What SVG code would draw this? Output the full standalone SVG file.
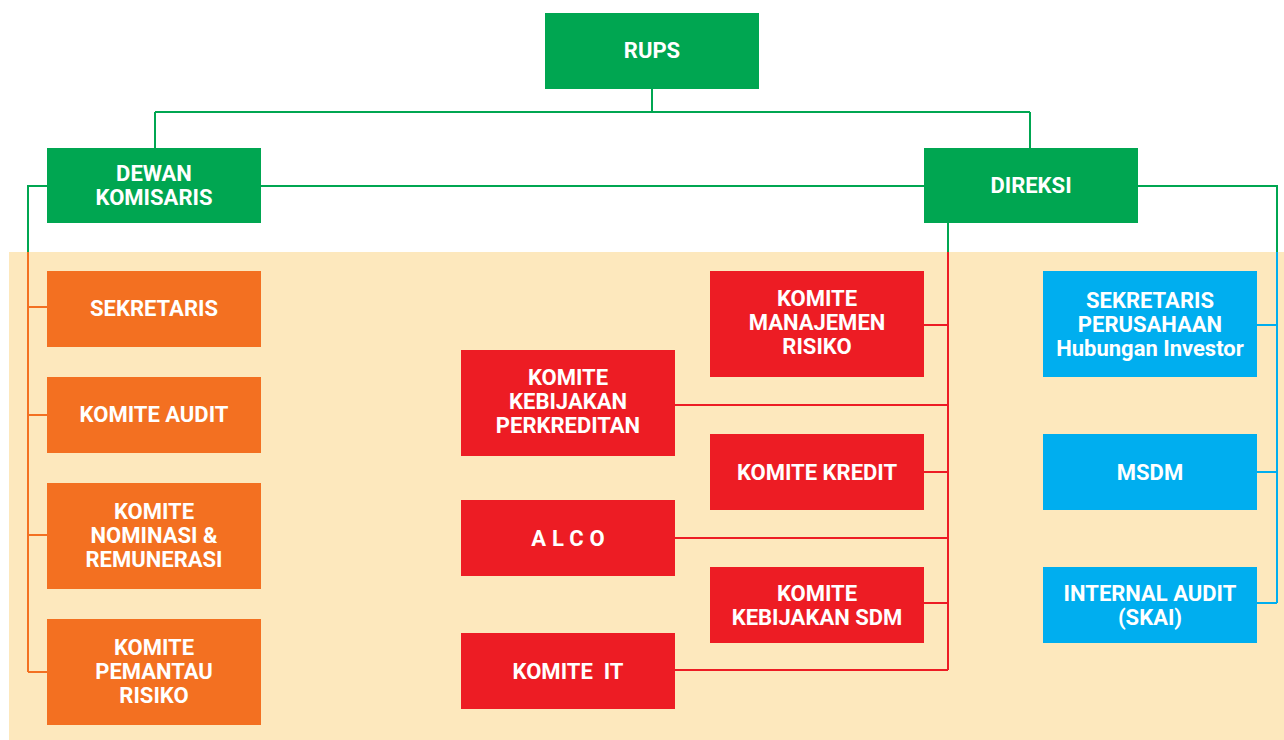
<svg xmlns="http://www.w3.org/2000/svg" width="1284" height="740" viewBox="0 0 1284 740">
  <style>
    .green { fill: #00A651; }
    .orange { fill: #F37021; }
    .red { fill: #ED1C24; }
    .blue { fill: #00AEEF; }
    .lbl { fill: #FFFFFF; font-family: Roboto, "Liberation Sans", sans-serif; font-weight: bold; font-size: 22px; text-anchor: middle; }
    .ln { fill: none; stroke-width: 2; }
    .lg { stroke: #00A651; }
    .lo { stroke: #F37021; }
    .lr { stroke: #ED1C24; }
    .lb { stroke: #00AEEF; }
  </style>

  <rect width="1284" height="740" fill="#FFFFFF"/>
  <!-- committee area backdrop -->
  <rect x="9" y="252" width="1275" height="488" fill="#FDE8BD"/>

  <g id="connectors">
    <!-- RUPS to board level -->
    <path class="ln lg" d="M652 88 V112 M155 112 H1030 M155 112 V148 M1030 112 V148"/>
    <path class="ln lg" d="M261 186 H924"/>
    <!-- commissioners' bus -->
    <path class="ln lg" d="M47 186 H28 V252"/>
    <path class="ln lo" d="M28 252 V672 M28 307 H47 M28 415 H47 M28 535 H47 M28 672 H47"/>
    <!-- directors' committees -->
    <path class="ln lg" d="M948 223 V252"/>
    <path class="ln lr" d="M948 252 V670 M924 325 H948 M675 405 H948 M924 472 H948 M675 538 H948 M924 603 H948 M675 670 H948"/>
    <!-- directors' staff units -->
    <path class="ln lg" d="M1138 186 H1277 V252"/>
    <path class="ln lb" d="M1277 252 V603 M1257 325 H1277 M1257 472 H1277 M1257 603 H1277"/>
  </g>

  <g id="rups">
    <rect class="green" x="545" y="13" width="214" height="76"/>
    <text class="lbl" x="652" y="58">RUPS</text>
  </g>
  <g id="dewan-komisaris">
    <rect class="green" x="47" y="148" width="214" height="75"/>
    <text class="lbl" x="154" y="181">DEWAN</text>
    <text class="lbl" x="154" y="205">KOMISARIS</text>
  </g>
  <g id="direksi">
    <rect class="green" x="924" y="148" width="214" height="75"/>
    <text class="lbl" x="1031" y="193">DIREKSI</text>
  </g>

  <g id="sekretaris">
    <rect class="orange" x="47" y="271" width="214" height="76"/>
    <text class="lbl" x="154" y="316">SEKRETARIS</text>
  </g>
  <g id="komite-audit">
    <rect class="orange" x="47" y="377" width="214" height="76"/>
    <text class="lbl" x="154" y="422">KOMITE AUDIT</text>
  </g>
  <g id="komite-nominasi">
    <rect class="orange" x="47" y="483" width="214" height="106"/>
    <text class="lbl" x="154" y="519">KOMITE</text>
    <text class="lbl" x="154" y="543">NOMINASI &amp;</text>
    <text class="lbl" x="154" y="567">REMUNERASI</text>
  </g>
  <g id="komite-pemantau-risiko">
    <rect class="orange" x="47" y="619" width="214" height="106"/>
    <text class="lbl" x="154" y="655">KOMITE</text>
    <text class="lbl" x="154" y="679">PEMANTAU</text>
    <text class="lbl" x="154" y="703">RISIKO</text>
  </g>

  <g id="komite-manajemen-risiko">
    <rect class="red" x="710" y="271" width="214" height="106"/>
    <text class="lbl" x="817" y="306">KOMITE</text>
    <text class="lbl" x="817" y="330">MANAJEMEN</text>
    <text class="lbl" x="817" y="354">RISIKO</text>
  </g>
  <g id="komite-kebijakan-perkreditan">
    <rect class="red" x="461" y="350" width="214" height="106"/>
    <text class="lbl" x="568" y="385">KOMITE</text>
    <text class="lbl" x="568" y="409">KEBIJAKAN</text>
    <text class="lbl" x="568" y="433">PERKREDITAN</text>
  </g>
  <g id="komite-kredit">
    <rect class="red" x="710" y="434" width="214" height="76"/>
    <text class="lbl" x="817" y="480">KOMITE KREDIT</text>
  </g>
  <g id="alco">
    <rect class="red" x="461" y="500" width="214" height="76"/>
    <text class="lbl" x="571" y="546" letter-spacing="6">ALCO</text>
  </g>
  <g id="komite-kebijakan-sdm">
    <rect class="red" x="710" y="567" width="214" height="76"/>
    <text class="lbl" x="817" y="601">KOMITE</text>
    <text class="lbl" x="817" y="625">KEBIJAKAN SDM</text>
  </g>
  <g id="komite-it">
    <rect class="red" x="461" y="633" width="214" height="76"/>
    <text class="lbl" x="568" y="679" style="white-space: pre">KOMITE  IT</text>
  </g>

  <g id="sekretaris-perusahaan">
    <rect class="blue" x="1043" y="271" width="214" height="106"/>
    <text class="lbl" x="1150" y="308">SEKRETARIS</text>
    <text class="lbl" x="1150" y="332">PERUSAHAAN</text>
    <text class="lbl" x="1150" y="356">Hubungan Investor</text>
  </g>
  <g id="msdm">
    <rect class="blue" x="1043" y="434" width="214" height="76"/>
    <text class="lbl" x="1150" y="480">MSDM</text>
  </g>
  <g id="internal-audit">
    <rect class="blue" x="1043" y="567" width="214" height="76"/>
    <text class="lbl" x="1150" y="601">INTERNAL AUDIT</text>
    <text class="lbl" x="1150" y="625">(SKAI)</text>
  </g>
</svg>
